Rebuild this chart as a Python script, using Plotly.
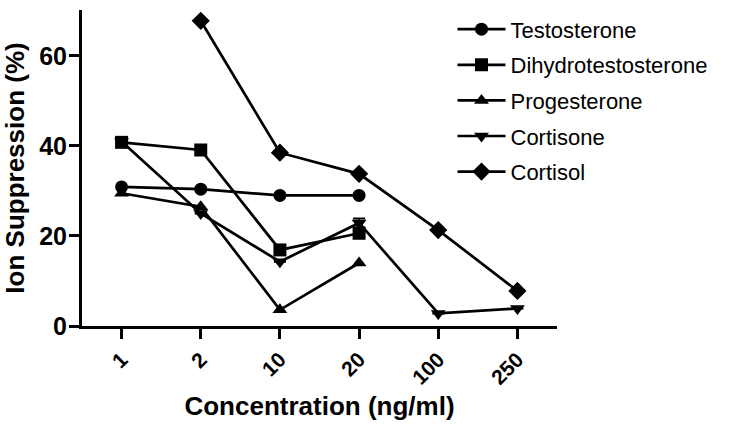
import plotly.graph_objects as go

concentrations = ["1", "2", "10", "20", "100", "250"]

testosterone = [30.9, 30.4, 29.0, 29.0, None, None]
dihydrotestosterone = [40.8, 39.1, 16.9, 20.6, None, None]
dht_err = [1.0, 0, 0, 0, None, None]
progesterone = [29.5, 26.5, 3.6, 14.0, None, None]
cortisone = [41.0, 25.0, 14.3, 22.9, 2.8, 3.9]
cortisone_err = [0, 0, 0, 1.0, 0, 0]
cortisol = [None, 67.8, 38.5, 33.8, 21.3, 7.8]

series = [
    ("Testosterone", testosterone, "circle", None),
    ("Dihydrotestosterone", dihydrotestosterone, "square", dht_err),
    ("Progesterone", progesterone, "triangle-up", None),
    ("Cortisone", cortisone, "triangle-down", cortisone_err),
    ("Cortisol", cortisol, "diamond", None),
]

FONT = "Liberation Sans, Arial"

fig = go.Figure()
for i, (name, vals, sym, err) in enumerate(series):
    tr = dict(
        x=concentrations, y=vals, name=name, mode="lines+markers",
        legendgroup=f"g{i}",
        line=dict(color="black", width=2.7),
        marker=dict(symbol=sym, size=13 if sym != "diamond" else 14, color="black"),
    )
    if err is not None:
        tr["error_y"] = dict(type="data", array=err, visible=True, color="black", thickness=2, width=6)
    fig.add_trace(go.Scatter(**tr))

fig.update_layout(
    width=751, height=432,
    margin=dict(l=82, r=194, t=10, b=106, autoexpand=False),
    plot_bgcolor="white", paper_bgcolor="white",
    font=dict(family=FONT, color="black"),
    showlegend=True,
    legend=dict(
        x=0.78, y=1.005, xanchor="left", yanchor="top",
        font=dict(size=22, family=FONT),
        tracegroupgap=4, itemwidth=48, bgcolor="rgba(0,0,0,0)",
    ),
    xaxis=dict(
        type="category", categoryorder="array", categoryarray=concentrations,
        range=[-0.5, 5.5], showgrid=False, zeroline=False, automargin=False,
        showline=True, linecolor="black", linewidth=3,
        ticks="outside", ticklen=10, tickwidth=2.5, tickcolor="black",
        tickangle=-45,
        tickfont=dict(size=21, family=FONT, weight="bold"),
        title=dict(text="<b>Concentration (ng/ml)</b>", font=dict(size=26), standoff=10),
    ),
    yaxis=dict(
        range=[0, 70.2], showgrid=False, zeroline=False, automargin=False,
        showline=True, linecolor="black", linewidth=3,
        ticks="outside", ticklen=10, tickwidth=2.5, tickcolor="black",
        tickvals=[0, 20, 40, 60], ticklabelstandoff=-3,
        tickfont=dict(size=25, family=FONT, weight="bold"),
        title=dict(text="<b>Ion Suppression (%)</b>", font=dict(size=26), standoff=13),
    ),
)

fig.write_html("out.html", config={"displayModeBar": False},
               post_script="document.body.style.margin='0';")
